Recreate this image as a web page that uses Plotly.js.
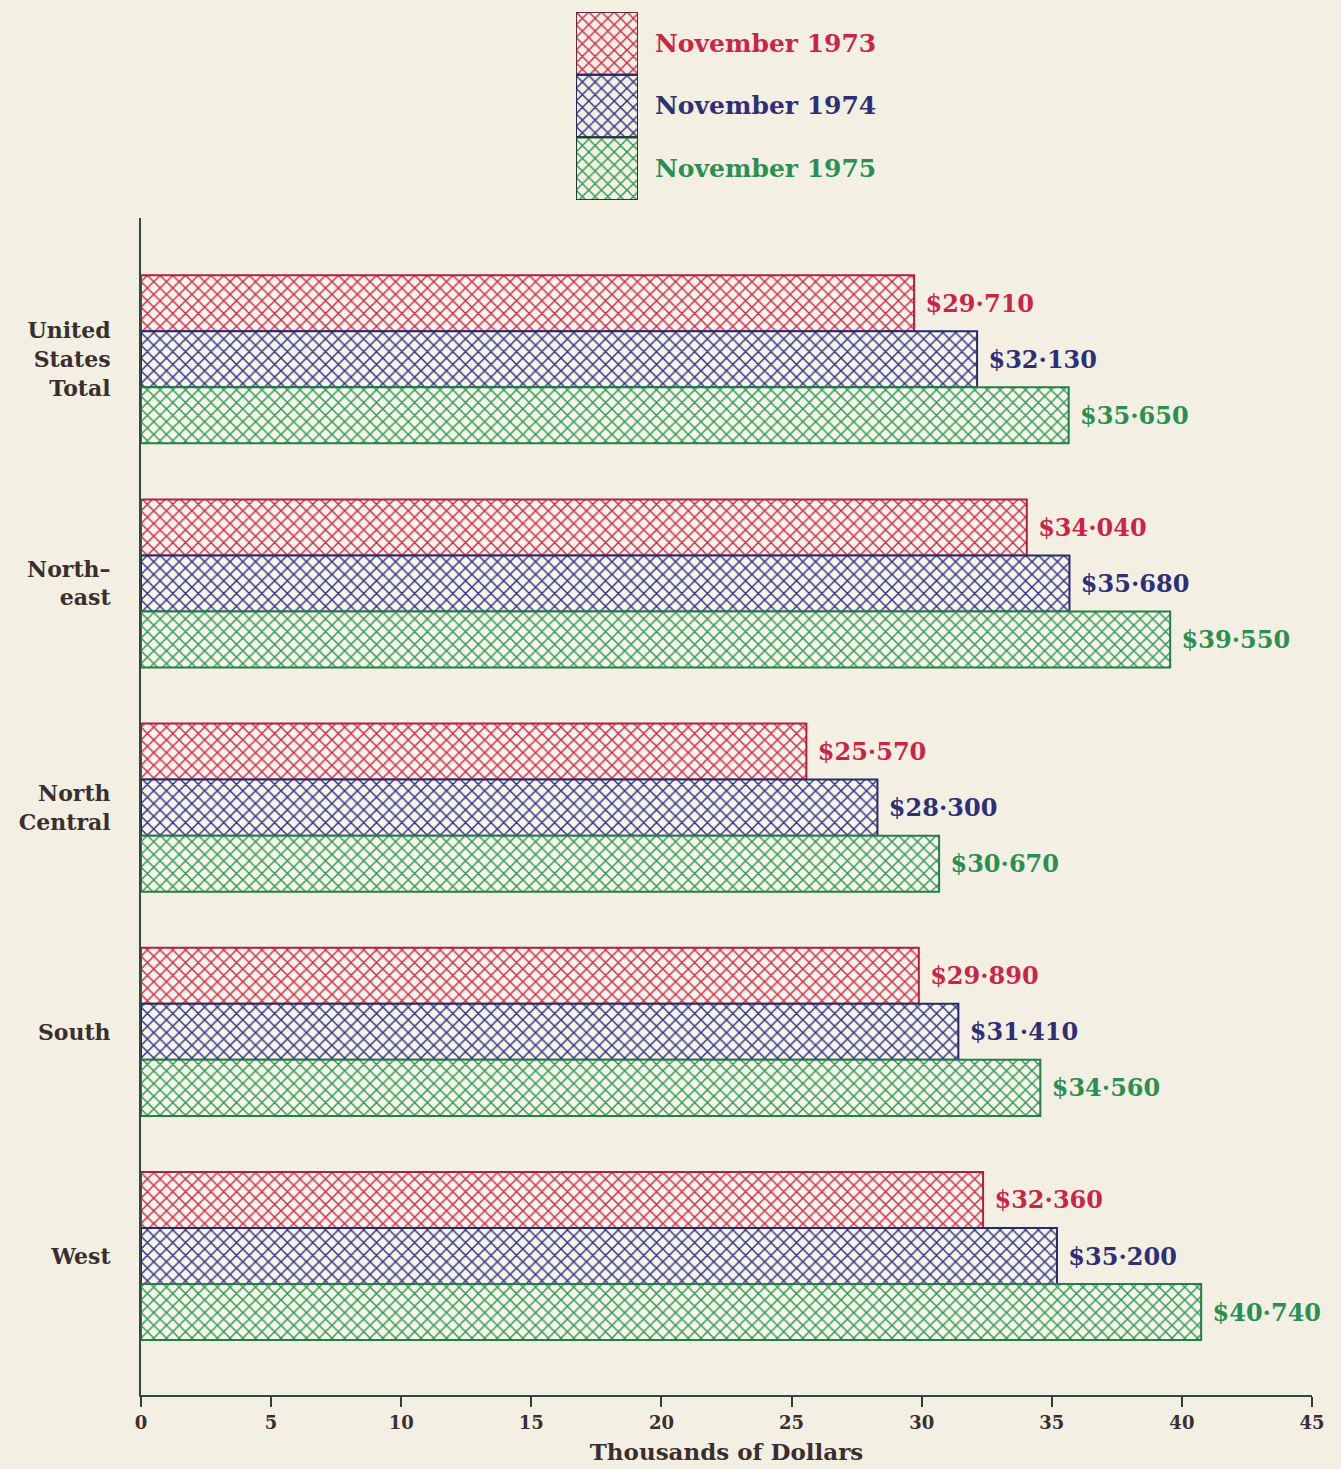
<!DOCTYPE html>
<html>
<head>
<meta charset="utf-8">
<script src="https://cdn.plot.ly/plotly-3.0.1.min.js"></script>
<style>
html,body{margin:0;padding:0;background:#f3f0e3;}
#chart{width:1341px;height:1469px;}
</style>
</head>
<body>
<div id="chart"></div>
<script>
// Categories (regions), top to bottom
const regions = ["United<br>States<br>Total", "North–<br>east", "North<br>Central", "South", "West"];
// Series names
const seriesNames = ["November 1973", "November 1974", "November 1975"];
// Average values, thousands of dollars
const nov1973 = [29.71, 34.04, 25.57, 29.89, 32.36];
const nov1974 = [32.13, 35.68, 28.30, 31.41, 35.20];
const nov1975 = [35.65, 39.55, 30.67, 34.56, 40.74];
// X-axis ticks
const xTicks = [0, 5, 10, 15, 20, 25, 30, 35, 40, 45];

const seriesValues = [nov1973, nov1974, nov1975];
const fgColors = ["#d0294f", "#2f3488", "#2e9a55"];
const lineColors = ["#b3203f", "#262a6e", "#247f45"];
const textColors = ["#cc2447", "#2f2f78", "#2a8f50"];
const hatchBg = "#f7f4ea";
const FONT = "DejaVu Serif";

function fmt(v) {
  return "\u00a0$" + v.toFixed(3).replace(".", "·");
}

const traces = seriesValues.map((vals, i) => ({
  type: "bar",
  orientation: "h",
  name: seriesNames[i],
  y: regions,
  x: vals,
  xaxis: "x",
  yaxis: "y",
  text: vals.map(fmt),
  textposition: "outside",
  textfont: {family: FONT, size: 24, color: textColors[i], weight: "bold"},
  constraintext: "none",
  cliponaxis: false,
  marker: {
    color: fgColors[i],
    line: {color: lineColors[i], width: 2},
    pattern: {shape: "x", size: 9, solidity: 0.3, fillmode: "replace", fgcolor: fgColors[i], bgcolor: hatchBg}
  },
  showlegend: false,
  hoverinfo: "skip"
}));

// Legend swatches drawn as a small bar subplot
traces.push({
  type: "bar",
  orientation: "h",
  y: [0, 1, 2],
  x: [1, 1, 1],
  width: [1, 1, 1],
  xaxis: "x2",
  yaxis: "y2",
  marker: {
    color: fgColors,
    line: {color: ["#6a2a3a", "#25285e", "#1f3f30"], width: 2},
    pattern: {shape: "x", size: 9, solidity: 0.3, fillmode: "replace", fgcolor: fgColors, bgcolor: hatchBg}
  },
  showlegend: false,
  hoverinfo: "skip"
});

const legendAnnotations = seriesNames.map((n, i) => ({
  text: n,
  xref: "paper",
  yref: "y2",
  x: 0.437,
  y: i,
  xanchor: "left",
  yanchor: "middle",
  showarrow: false,
  font: {family: FONT, size: 25, color: textColors[i], weight: "bold"}
}));

const layout = {
  width: 1341,
  height: 1469,
  margin: {l: 141, r: 29, t: 10, b: 74},
  paper_bgcolor: "#f3f0e3",
  plot_bgcolor: "#f3f0e3",
  barmode: "group",
  bargap: 0.25,
  bargroupgap: 0,
  showlegend: false,
  xaxis: {
    range: [0, 45],
    tickvals: xTicks,
    ticktext: xTicks.map(String),
    ticks: "outside",
    ticklen: 10,
    tickwidth: 2,
    tickcolor: "#3a3a36",
    showline: true,
    linecolor: "#2f4a44",
    linewidth: 2,
    showgrid: false,
    zeroline: false,
    tickfont: {family: FONT, size: 18, color: "#3a2e2e", weight: "bold"},
    title: {text: "Thousands of Dollars", font: {family: FONT, size: 23, color: "#3a2e2e", weight: "bold"}, standoff: 12},
    fixedrange: true
  },
  yaxis: {
    domain: [0, 0.8498],
    type: "category",
    range: [4.62, -0.63],
    showline: true,
    linecolor: "#2f4a44",
    linewidth: 2,
    ticks: "",
    showgrid: false,
    zeroline: false,
    ticklabelstandoff: 24,
    tickfont: {family: FONT, size: 22, color: "#3a2e2e", weight: "bold"},
    fixedrange: true
  },
  xaxis2: {
    domain: [0.3715, 0.4244],
    range: [0, 1],
    anchor: "y2",
    visible: false,
    fixedrange: true
  },
  yaxis2: {
    domain: [0.8628, 0.9986],
    range: [2.5, -0.5],
    anchor: "x2",
    visible: false,
    fixedrange: true
  },
  annotations: legendAnnotations
};

Plotly.newPlot("chart", traces, layout, {displayModeBar: false, staticPlot: true});
</script>
</body>
</html>
